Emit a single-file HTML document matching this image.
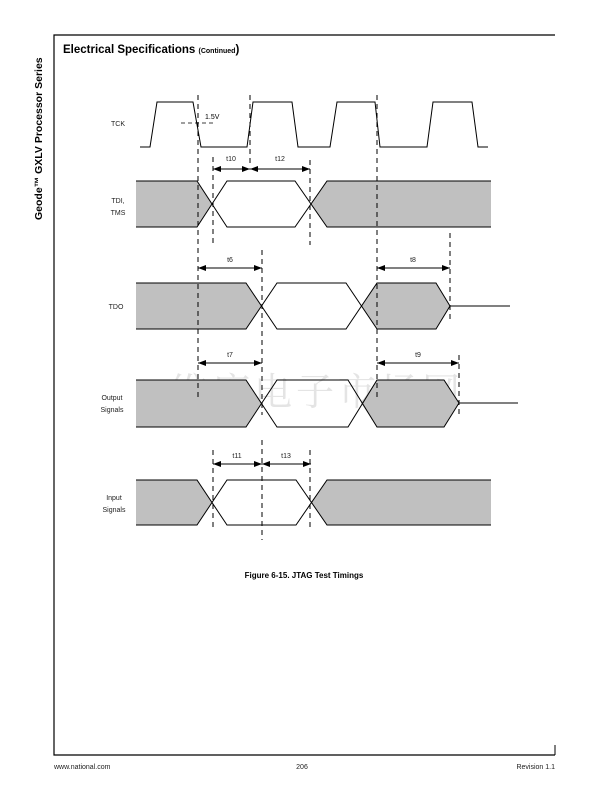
<!DOCTYPE html>
<html><head><meta charset="utf-8"><style>
html,body{margin:0;padding:0;background:#fff;}
svg{display:block;}
</style></head><body>
<svg width="611" height="792" viewBox="0 0 611 792" xmlns="http://www.w3.org/2000/svg" font-family="Liberation Sans, Arial, sans-serif">
<rect width="611" height="792" fill="#fff"/>
<!-- page frame -->
<polyline points="555,35 54,35 54,755 555,755" fill="none" stroke="#000" stroke-width="1.2"/>
<line x1="555" y1="745" x2="555" y2="755" stroke="#000" stroke-width="1"/>
<text transform="translate(42,220) rotate(-90)" font-size="10.5" font-weight="bold">Geode™ GXLV Processor Series</text>
<text x="63" y="53" font-size="11.5" font-weight="bold">Electrical Specifications <tspan font-size="7">(Continued</tspan>)</text>

<!-- watermark -->
<text x="170" y="405" font-family="Noto Serif CJK SC, serif" font-size="38" fill="#e4e4e4" letter-spacing="4">维库电子市场网</text>

<!-- labels -->
<g font-size="7" fill="#222" text-anchor="middle">
<text x="118" y="126">TCK</text>
<text x="118" y="203">TDI,</text>
<text x="118" y="215">TMS</text>
<text x="116" y="309">TDO</text>
<text x="112" y="400">Output</text>
<text x="112" y="412">Signals</text>
<text x="114" y="500">Input</text>
<text x="114" y="512">Signals</text>
</g>

<!-- TCK -->
<polyline points="140,147 150,147 157,102 193,102 201,147 247,147 253,102 292,102 298,147 330,147 337,102 375,102 380,147 427,147 433,102 472,102 478,147 488,147" fill="none" stroke="#000" stroke-width="1"/>
<line x1="181" y1="123" x2="215" y2="123" stroke="#000" stroke-width="0.8" stroke-dasharray="4,3"/>
<text x="205" y="119" font-size="7">1.5V</text>

<!-- gray fills -->
<g fill="#c0c0c0" stroke="none">
<polygon points="136,181 197,181 212,204 197,227 136,227"/>
<polygon points="311,204 327,181 491,181 491,227 327,227"/>
<polygon points="136,283 246,283 262,306 246,329 136,329"/>
<polygon points="361,306 377,283 436,283 450,306 436,329 377,329"/>
<polygon points="136,380 246,380 262,403 246,427 136,427"/>
<polygon points="361,403 377,380 444,380 459,403 444,427 377,427"/>
<polygon points="136,480 197,480 212,502 197,525 136,525"/>
<polygon points="311,502 327,480 491,480 491,525 327,525"/>
</g>
<g fill="none" stroke="#000" stroke-width="1">
<!-- TDI -->
<polyline points="136,181 197,181 227,227 295,227 327,181 491,181"/>
<polyline points="136,227 197,227 227,181 295,181 327,227 491,227"/>
<!-- TDO -->
<polyline points="136,283 246,283 277,329 346,329 377,283 436,283 450,306 510,306"/>
<polyline points="136,329 246,329 277,283 346,283 377,329 436,329 450,306"/>
<!-- Output -->
<polyline points="136,380 246,380 277,427 348,427 377,380 444,380 459,403 518,403"/>
<polyline points="136,427 246,427 277,380 348,380 377,427 444,427 459,403"/>
<!-- Input -->
<polyline points="136,480 197,480 227,525 296,525 327,480 491,480"/>
<polyline points="136,525 197,525 227,480 296,480 327,525 491,525"/>
</g>

<!-- dashed verticals -->
<g stroke="#000" stroke-width="1" stroke-dasharray="5,4">
<line x1="198" y1="95" x2="198" y2="400"/>
<line x1="377" y1="95" x2="377" y2="400"/>
<line x1="250" y1="95" x2="250" y2="165"/>
<line x1="213" y1="157" x2="213" y2="245"/>
<line x1="310" y1="160" x2="310" y2="245"/>
<line x1="262" y1="250" x2="262" y2="415"/>
<line x1="450" y1="233" x2="450" y2="322"/>
<line x1="459" y1="355" x2="459" y2="415"/>
<line x1="213" y1="450" x2="213" y2="527"/>
<line x1="310" y1="450" x2="310" y2="527"/>
<line x1="262" y1="440" x2="262" y2="540"/>
</g>

<!-- dimension arrows -->
<defs>
<marker id="a" markerWidth="8" markerHeight="6" refX="8" refY="3" orient="auto-start-reverse" markerUnits="userSpaceOnUse">
<path d="M0,0 L8,3 L0,6 z" fill="#000"/>
</marker>
</defs>
<g stroke="#000" stroke-width="0.9" marker-start="url(#a)" marker-end="url(#a)">
<line x1="213" y1="169" x2="250" y2="169"/>
<line x1="250" y1="169" x2="310" y2="169"/>
<line x1="198" y1="268" x2="262" y2="268"/>
<line x1="377" y1="268" x2="450" y2="268"/>
<line x1="198" y1="363" x2="262" y2="363"/>
<line x1="377" y1="363" x2="459" y2="363"/>
<line x1="213" y1="464" x2="262" y2="464"/>
<line x1="262" y1="464" x2="311" y2="464"/>
</g>
<g font-size="7" fill="#222" text-anchor="middle">
<text x="231" y="161">t10</text>
<text x="280" y="161">t12</text>
<text x="230" y="262">t6</text>
<text x="413" y="262">t8</text>
<text x="230" y="357">t7</text>
<text x="418" y="357">t9</text>
<text x="237" y="458">t11</text>
<text x="286" y="458">t13</text>
</g>

<text x="304" y="578" font-size="8" font-weight="bold" text-anchor="middle">Figure 6-15.  JTAG Test Timings</text>

<g font-size="7" fill="#222">
<text x="54" y="769">www.national.com</text>
<text x="302" y="769" text-anchor="middle">206</text>
<text x="555" y="769" text-anchor="end">Revision 1.1</text>
</g>
</svg>
</body></html>
